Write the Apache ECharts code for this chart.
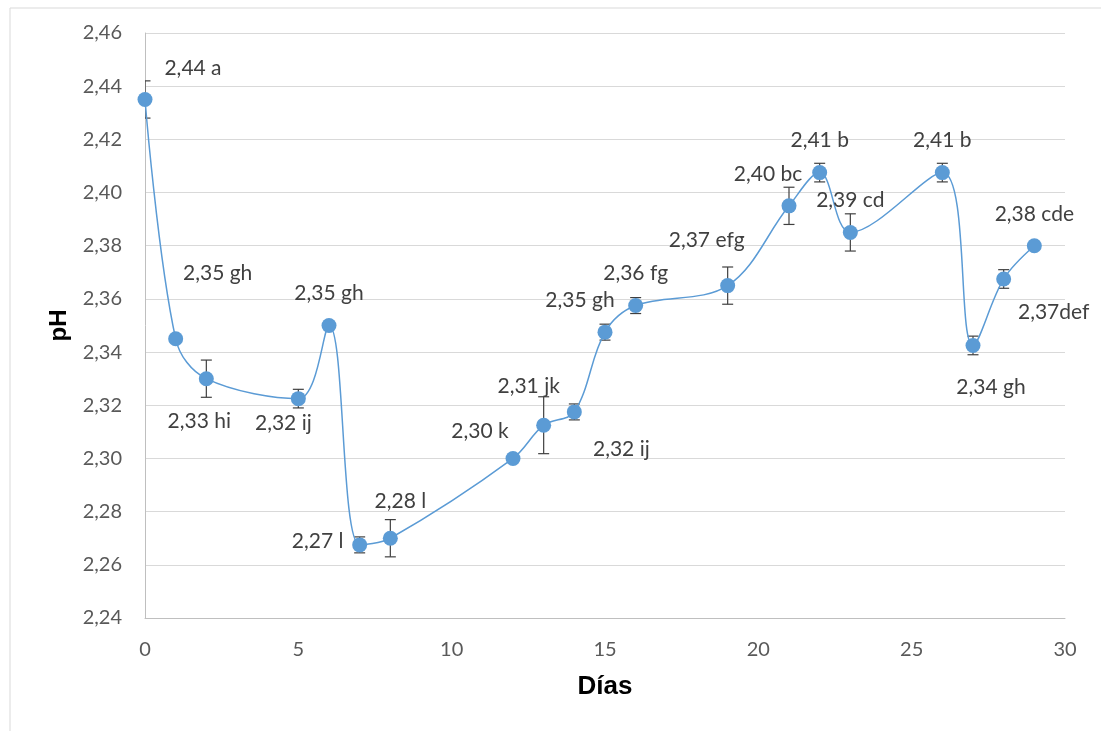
<!DOCTYPE html>
<html><head><meta charset="utf-8">
<script src="https://cdn.jsdelivr.net/npm/echarts@6/dist/echarts.min.js"></script>
<style>html,body{margin:0;padding:0;background:#fff}#c{width:1101px;height:731px}</style>
</head><body><div id="c"></div>
<script>
const days = [0,1,2,5,6,7,8,12,13,14,15,16,19,21,22,23,26,27,28,29];
const ph = [2.435,2.345,2.330,2.3225,2.350,2.2675,2.270,2.300,2.3125,2.3175,2.3475,2.3575,2.365,2.395,2.4075,2.385,2.4075,2.3425,2.3675,2.380];
const phErr = [0.007,0,0.007,0.0035,0,0.003,0.007,0,0.0107,0.003,0.003,0.003,0.007,0.007,0.0035,0.007,0.0035,0.0035,0.0035,0];
const pointLabels = ["2,44 a","2,35 gh","2,33 hi","2,32 ij","2,35 gh","2,27 l","2,28 l","2,30 k","2,31 jk","2,32 ij","2,35 gh","2,36 fg","2,37 efg","2,40 bc","2,41 b","2,39 cd","2,41 b","2,34 gh","2,37def","2,38 cde"];
const xTitle = "Días";
const yTitle = "pH";

// label layout (pixel offsets from each marker centre)
const labelOffsets = [[48,-31],[42,-66],[-7,43],[-15,25],[0,-32],[-42,-4],[10,-37],[-33,-27],[-15,-39],[47,37],[-25,-32],[0,-32],[-21,-45],[-21,-32],[0,-32],[0,-32],[0,-32],[18,42],[50,33],[0,-31]];

const FONT = 'Lato';
const lineData = days.map((d,i)=>({
  value:[d, ph[i]],
  label:{show:true, formatter: pointLabels[i], position:'inside', offset: labelOffsets[i],
         align:'center', verticalAlign:'middle', color:'#404040', fontSize:21, fontFamily:FONT}
}));
const errData = days.map((d,i)=>[d, ph[i]-phErr[i], ph[i]+phErr[i]]);

const chart = echarts.init(document.getElementById('c'), null, {renderer:'canvas'});
chart.setOption({
  animation:false,
  backgroundColor:'#fff',
  graphic:[{type:'rect', left:7.5, top:5.5, shape:{width:1100, height:730}, style:{fill:'none', stroke:'#d9d9d9', lineWidth:1}, z:-10}],
  grid:{left:145, right:36, top:33, bottom:113},
  xAxis:{type:'value', min:0, max:30, interval:5,
    name:xTitle, nameLocation:'middle', nameGap:56,
    nameTextStyle:{fontFamily:'Liberation Sans Narrow, Liberation Sans', fontWeight:'bold', fontSize:26, color:'#000'},
    axisLine:{show:true, lineStyle:{color:'#bfbfbf', width:1}},
    axisTick:{show:false}, splitLine:{show:false},
    axisLabel:{color:'#595959', fontSize:20, fontFamily:FONT, margin:22}
  },
  yAxis:{type:'value', min:2.24, max:2.46, interval:0.02,
    name:yTitle, nameLocation:'middle', nameGap:71, nameRotate:90,
    nameTextStyle:{fontFamily:'Liberation Sans', fontWeight:'bold', fontSize:24, color:'#000'},
    axisLine:{show:true, lineStyle:{color:'#bfbfbf', width:1}},
    axisTick:{show:false},
    splitLine:{show:true, lineStyle:{color:'#d9d9d9', width:1}},
    axisLabel:{color:'#595959', fontSize:20, fontFamily:FONT, margin:23,
      formatter:v=>v.toFixed(2).replace('.',',')}
  },
  series:[
    {type:'custom', z:1, clip:true, data:errData,
     renderItem:(params, api)=>{
       const x = api.value(0);
       const lo = api.coord([x, api.value(1)]);
       const hi = api.coord([x, api.value(2)]);
       if (Math.abs(hi[1]-lo[1]) < 0.5) return null;
       const w = 5.5;
       const st = {stroke:'#404040', lineWidth:1.2};
       return {type:'group', children:[
         {type:'line', shape:{x1:lo[0], y1:lo[1], x2:hi[0], y2:hi[1]}, style:st},
         {type:'line', shape:{x1:lo[0]-w, y1:lo[1], x2:lo[0]+w, y2:lo[1]}, style:st},
         {type:'line', shape:{x1:hi[0]-w, y1:hi[1], x2:hi[0]+w, y2:hi[1]}, style:st}
       ]};
     }},
    {type:'line', z:3, data:lineData, smooth:0.35, symbol:'circle', symbolSize:15,
     lineStyle:{color:'#5B9BD5', width:1.5}, itemStyle:{color:'#5B9BD5'}}
  ]
});
</script></body></html>
